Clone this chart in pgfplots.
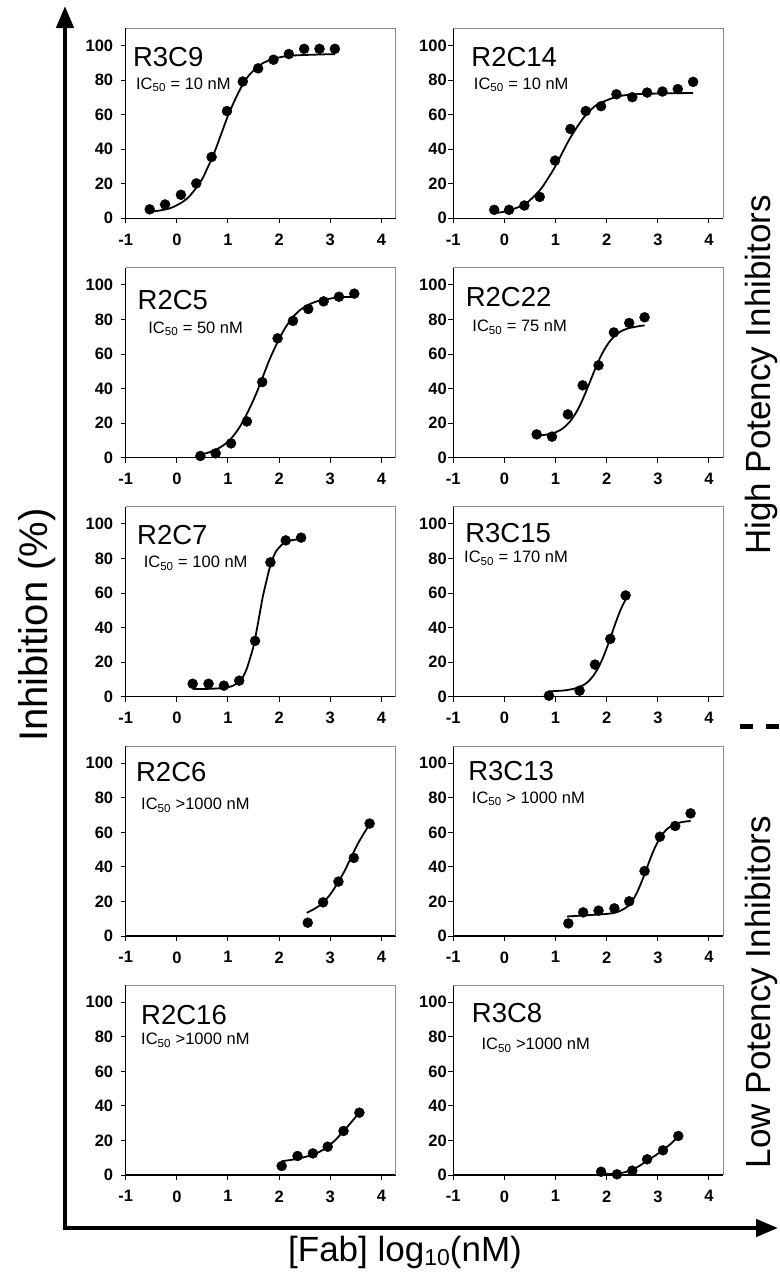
\documentclass[border=0pt]{standalone}
\usepackage{fontspec}
\setmainfont{Liberation Sans}
\usepackage{pgfplots}
\pgfplotsset{compat=1.18}
\usetikzlibrary{arrows.meta}

\pgfplotsset{
  panel/.style={
    scale only axis, width=270pt, height=190pt,
    anchor=south west,
    xmin=-1, xmax=4.28, ymin=0, ymax=110,
    xtick={-1,0,1,2,3,4}, ytick={0,20,40,60,80,100},
    axis x line*=bottom, axis y line*=left,
    axis line style={-, black, line width=1.2pt},
    tick align=outside, major tick length=5pt,
    tick style={black, line width=1pt},
    ticklabel style={font=\fontsize{16.5pt}{16.5pt}\selectfont\bfseries},
    /pgf/number format/assume math mode=true,
    xticklabel style={yshift=-7pt},
    clip=false,
  },
  leftcol/.style={panel, yticklabel style={xshift=-4pt}},
  rightcol/.style={panel, yticklabel style={xshift=2pt}},
  dots/.style={only marks, mark=*, mark size=5pt, black},
  fit/.style={no marks, smooth, black, line width=1.8pt},
}
\newcommand{\frameit}{\draw[black!45, line width=1pt] (rel axis cs:0,1) -- (rel axis cs:1,1) -- (rel axis cs:1,0);}
\newcommand{\ptitle}[3]{\node[anchor=base west, inner sep=0, font=\fontsize{27.5pt}{27.5pt}\selectfont] at (axis cs:#1,#2) {#3};}
\newcommand{\ic}[3]{\node[anchor=base west, inner sep=0, font=\fontsize{16.5pt}{16.5pt}\selectfont] at (axis cs:#1,#2) {#3};}

\begin{document}
\begin{tikzpicture}
\useasboundingbox (0,0) rectangle (779pt,-1274pt);

% ---------- row 1
\begin{axis}[leftcol, at={(125.7pt,-218.3pt)}]
\addplot[fit] coordinates {(-0.53,3.7)(-0.13,5.85)(0.2,11.4)(0.47,21.5)(0.6,29.2)(0.74,38.6)(0.87,49)(1.0,59.4)(1.14,68.8)(1.27,76.5)(1.4,82.4)(1.54,86.6)(1.67,89.6)(1.87,92.1)(2.2,94.1)(2.87,94.9)(3.09,95)};
\addplot[dots] coordinates {(-0.53,5.2)(-0.23,8.0)(0.08,13.6)(0.38,20.2)(0.68,35.5)(0.98,62.1)(1.29,79.2)(1.59,86.8)(1.89,91.8)(2.19,95.1)(2.49,98.1)(2.79,98.1)(3.09,98.1)};
\frameit
\ptitle{-0.86}{88}{R3C9}
\ic{-0.8}{74.8}{IC\textsubscript{50} = 10 nM}
\end{axis}

\begin{axis}[rightcol, at={(453.3pt,-218.3pt)}]
\addplot[fit] coordinates {(-0.2,3.0)(0.05,4.2)(0.41,8.4)(0.69,16.2)(0.83,22.1)(0.98,29.3)(1.12,37.25)(1.26,45.2)(1.41,52.4)(1.55,58.3)(1.69,62.8)(1.83,66.1)(2.19,70.3)(2.55,71.8)(3.26,72.4)(3.69,72.5)};
\addplot[dots] coordinates {(-0.2,4.9)(0.09,4.9)(0.39,7.4)(0.69,12.4)(0.99,33.4)(1.29,51.7)(1.59,62.1)(1.89,64.9)(2.19,71.8)(2.5,70.1)(2.79,72.8)(3.09,73.4)(3.39,74.8)(3.69,79.0)};
\frameit
\ptitle{-0.65}{88}{R2C14}
\ic{-0.6}{74.8}{IC\textsubscript{50} = 10 nM}
\end{axis}

% ---------- row 2
\begin{axis}[leftcol, at={(125.7pt,-457.7pt)}]
\addplot[fit] coordinates {(0.46,1.8)(0.61,2.9)(0.82,5.5)(0.97,8.5)(1.11,12.8)(1.25,18.8)(1.39,26.6)(1.54,36.2)(1.68,46.75)(1.82,57.3)(1.97,66.9)(2.11,74.7)(2.25,80.7)(2.39,85.0)(2.54,88.0)(2.75,90.6)(3.11,92.6)(3.47,93.2)};
\addplot[dots] coordinates {(0.46,1.0)(0.76,2.5)(1.06,8.3)(1.37,21.0)(1.67,43.8)(1.97,69.1)(2.27,79.2)(2.57,86.1)(2.87,90.5)(3.17,93.2)(3.47,95.0)};
\frameit
\ptitle{-0.77}{86}{R2C5}
\ic{-0.56}{72}{IC\textsubscript{50} = 50 nM}
\end{axis}

\begin{axis}[rightcol, at={(453.3pt,-457.7pt)}]
\addplot[fit] coordinates {(0.63,12.5)(0.93,14.0)(1.08,15.8)(1.18,17.9)(1.28,20.9)(1.38,25.1)(1.48,30.5)(1.58,37.2)(1.68,44.5)(1.78,51.8)(1.88,58.5)(1.98,63.9)(2.08,68.1)(2.18,71.1)(2.28,73.2)(2.43,75)(2.68,76.4)(2.74,76.5)};
\addplot[dots] coordinates {(0.63,13.5)(0.93,12.2)(1.24,25.1)(1.53,41.9)(1.84,53.5)(2.14,72.5)(2.44,78.0)(2.74,81.3)};
\frameit
\ptitle{-0.76}{87.8}{R2C22}
\ic{-0.63}{73}{IC\textsubscript{50} = 75 nM}
\end{axis}

% ---------- row 3
\begin{axis}[leftcol, at={(125.7pt,-696.7pt)}]
\addplot[fit] coordinates {(0.31,4.5)(0.68,4.6)(1.0,5.4)(1.15,7.2)(1.25,9.6)(1.31,12.4)(1.37,16.4)(1.43,22)(1.5,29.3)(1.56,38.2)(1.62,48)(1.68,57.8)(1.75,66.7)(1.81,74)(1.87,79.6)(1.93,83.6)(2.0,86.4)(2.09,88.8)(2.25,90.6)(2.43,91.3)};
\addplot[dots] coordinates {(0.31,7.5)(0.62,7.5)(0.92,6.4)(1.22,9.3)(1.53,32.3)(1.83,77.8)(2.13,90.5)(2.43,92.1)};
\frameit
\ptitle{-0.78}{88}{R2C7}
\ic{-0.65}{74.8}{IC\textsubscript{50} = 100 nM}
\end{axis}

\begin{axis}[rightcol, at={(453.3pt,-696.7pt)}]
\addplot[fit] coordinates {(0.87,3.1)(1.19,3.7)(1.42,5.1)(1.56,7.0)(1.65,9.1)(1.74,12.2)(1.83,16.5)(1.92,22.1)(2.01,28.9)(2.1,36.5)(2.19,44.1)(2.28,50.9)(2.37,56.4)};
\addplot[dots] coordinates {(0.87,0.6)(1.47,3.5)(1.77,18.6)(2.07,33.5)(2.37,58.6)};
\frameit
\ptitle{-0.77}{89.5}{R3C15}
\ic{-0.79}{77.7}{IC\textsubscript{50} = 170 nM}
\end{axis}

% ---------- row 4
\begin{axis}[leftcol, at={(125.7pt,-936pt)}]
\addplot[fit] coordinates {(2.54,13.4)(2.73,16.4)(2.87,19.6)(3.0,24.1)(3.13,30)(3.27,37.1)(3.4,45)(3.53,52.9)(3.67,60)(3.76,64.3)};
\addplot[dots] coordinates {(2.56,7.7)(2.86,19.5)(3.16,31.5)(3.46,45.2)(3.77,65.1)};
\frameit
\ptitle{-0.8}{89.3}{R2C6}
\ic{-0.7}{73}{IC\textsubscript{50} >1000 nM}
\end{axis}

\begin{axis}[rightcol, at={(453.3pt,-936pt)}]
\addplot[fit] coordinates {(1.22,11.3)(1.6,12.0)(2.0,12.8)(2.2,13.8)(2.38,16.5)(2.5,20.3)(2.6,25.7)(2.7,32.7)(2.78,39)(2.86,45.3)(2.94,51)(3.02,55.7)(3.1,59.3)(3.2,62.4)(3.35,65)(3.5,66.1)(3.64,66.6)};
\addplot[dots] coordinates {(1.25,7.3)(1.54,13.7)(1.84,14.7)(2.15,16.0)(2.44,20.1)(2.74,37.6)(3.04,57.5)(3.34,63.7)(3.64,71.0)};
\frameit
\ptitle{-0.71}{90}{R3C13}
\ic{-0.64}{76.8}{IC\textsubscript{50} > 1000 nM}
\end{axis}

% ---------- row 5
\begin{axis}[leftcol, at={(125.7pt,-1175pt)}]
\addplot[fit] coordinates {(2.05,8.0)(2.2,8.6)(2.36,9.4)(2.5,10.4)(2.66,11.8)(2.8,13.6)(2.95,16.3)(3.1,20.3)(3.26,25.3)(3.4,30.2)(3.57,36.1)};
\addplot[dots] coordinates {(2.05,5.2)(2.36,11.0)(2.66,12.5)(2.95,16.4)(3.26,25.5)(3.57,36.1)};
\frameit
\ptitle{-0.7}{86.9}{R2C16}
\ic{-0.7}{75.3}{IC\textsubscript{50} >1000 nM}
\end{axis}

\begin{axis}[rightcol, at={(453.3pt,-1175pt)}]
\addplot[fit] coordinates {(1.89,1.0)(2.05,0.6)(2.2,0.8)(2.35,1.6)(2.5,3.0)(2.65,5.5)(2.8,8.5)(2.95,11.3)(3.1,14.5)(3.25,18)(3.4,22.3)};
\addplot[dots] coordinates {(1.89,1.9)(2.2,0.4)(2.5,2.5)(2.79,9.1)(3.1,14.3)(3.4,22.6)};
\frameit
\ptitle{-0.64}{88.2}{R3C8}
\ic{-0.45}{72.4}{IC\textsubscript{50} >1000 nM}
\end{axis}

% ---------- outer arrows and labels
\draw[line width=4.5pt, {Triangle[length=22pt,width=17pt]}-{Triangle[length=22pt,width=17pt]}]
  (65pt,-6pt) -- (65pt,-1228pt) -- (778pt,-1228pt);
\node[rotate=90, anchor=base, font=\fontsize{40pt}{40pt}\selectfont] at (47pt,-625pt) {Inhibition (\%)};
\node[anchor=base, inner sep=0, font=\fontsize{35pt}{35pt}\selectfont] at (405pt,-1261pt)
  {[Fab] log\raisebox{-4pt}{\fontsize{23pt}{23pt}\selectfont 10}(nM)};
\node[rotate=90, anchor=base, font=\fontsize{35pt}{35pt}\selectfont] at (770pt,-375pt) {High Potency Inhibitors};
\node[rotate=90, anchor=base, font=\fontsize{35pt}{35pt}\selectfont] at (770pt,-992pt) {Low Potency Inhibitors};
\draw[line width=5pt] (740pt,-726pt) -- (753pt,-726pt);
\draw[line width=5pt] (766pt,-726pt) -- (779pt,-726pt);
\end{tikzpicture}
\end{document}
